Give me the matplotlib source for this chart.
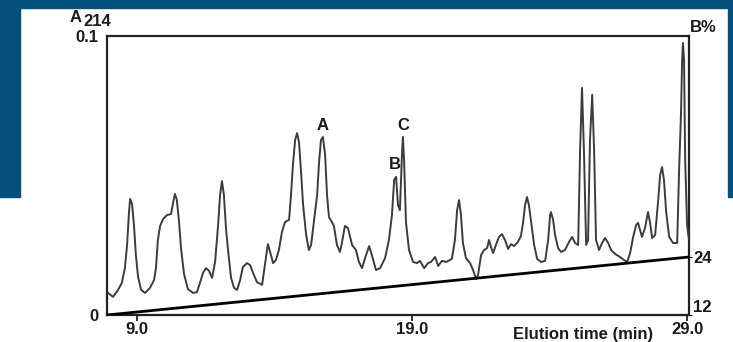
import matplotlib
matplotlib.use("Agg")
import matplotlib.pyplot as plt
from matplotlib.patches import Rectangle

# elution time (min) and absorbance at 214 nm
time = [7.95, 8.13, 8.31, 8.45, 8.56, 8.64, 8.71, 8.75, 8.82, 8.89, 8.96, 9.04, 9.15, 9.29,
        9.47, 9.62, 9.69, 9.76, 9.84, 9.95, 10.09, 10.24, 10.31, 10.38, 10.45, 10.53, 10.60,
        10.71, 10.85, 11.04, 11.18, 11.29, 11.40, 11.51, 11.62, 11.73, 11.84, 11.95, 12.02,
        12.09, 12.16, 12.24, 12.31, 12.42, 12.53, 12.64, 12.75, 12.85, 13.00, 13.11, 13.22,
        13.36, 13.55, 13.65, 13.76, 13.84, 13.95, 14.05, 14.16, 14.27, 14.38, 14.53, 14.60,
        14.67, 14.75, 14.82, 14.89, 14.96, 15.04, 15.15, 15.25, 15.33, 15.44, 15.55, 15.62,
        15.69, 15.76, 15.84, 15.91, 15.98, 16.09, 16.16, 16.27, 16.38, 16.45, 16.56, 16.67,
        16.82, 16.96, 17.07, 17.18, 17.33, 17.44, 17.55, 17.69, 17.84, 18.02, 18.16, 18.27,
        18.35, 18.42, 18.49, 18.56, 18.64, 18.67, 18.71, 18.78, 18.89, 19.04, 19.18, 19.29,
        19.44, 19.58, 19.69, 19.84, 19.95, 20.09, 20.24, 20.45, 20.56, 20.64, 20.71, 20.78,
        20.85, 20.96, 21.11, 21.22, 21.33, 21.40, 21.51, 21.62, 21.73, 21.80, 21.87, 21.95,
        22.05, 22.16, 22.27, 22.38, 22.49, 22.60, 22.71, 22.85, 22.96, 23.04, 23.11, 23.18,
        23.25, 23.33, 23.44, 23.55, 23.69, 23.84, 23.95, 24.02, 24.05, 24.13, 24.20, 24.31,
        24.42, 24.56, 24.71, 24.82, 24.93, 25.04, 25.11, 25.18, 25.25, 25.33, 25.40, 25.47,
        25.55, 25.62, 25.69, 25.80, 25.91, 26.02, 26.13, 26.24, 26.38, 26.56, 26.71, 26.82,
        26.93, 27.04, 27.15, 27.22, 27.29, 27.36, 27.47, 27.58, 27.65, 27.73, 27.84, 27.95,
        28.02, 28.09, 28.16, 28.24, 28.35, 28.49, 28.64, 28.71, 28.78, 28.82, 28.85, 28.89,
        28.93, 29.00, 29.07]
a214 = [0.0079, 0.0065, 0.0090, 0.0115, 0.0168, 0.0251, 0.0369, 0.0416, 0.0398, 0.0323, 0.0215, 0.0136, 0.0090, 0.0079,
        0.0097, 0.0125, 0.0168, 0.0269, 0.0319, 0.0344, 0.0358, 0.0362, 0.0401, 0.0434, 0.0412, 0.0333, 0.0240,
        0.0147, 0.0093, 0.0079, 0.0082, 0.0115, 0.0151, 0.0168, 0.0158, 0.0133, 0.0190, 0.0323, 0.0430,
        0.0480, 0.0430, 0.0305, 0.0233, 0.0133, 0.0097, 0.0090, 0.0125, 0.0172, 0.0186, 0.0179, 0.0151,
        0.0118, 0.0108, 0.0179, 0.0254, 0.0226, 0.0186, 0.0197, 0.0233, 0.0297, 0.0333, 0.0341, 0.0430,
        0.0538, 0.0627, 0.0652, 0.0620, 0.0520, 0.0394, 0.0287, 0.0233, 0.0251, 0.0341, 0.0430, 0.0548,
        0.0627, 0.0638, 0.0573, 0.0430, 0.0351, 0.0333, 0.0319, 0.0251, 0.0226, 0.0258, 0.0319, 0.0312,
        0.0251, 0.0233, 0.0190, 0.0168, 0.0215, 0.0247, 0.0211, 0.0161, 0.0168, 0.0204, 0.0269, 0.0358,
        0.0484, 0.0495, 0.0394, 0.0376, 0.0591, 0.0638, 0.0556, 0.0333, 0.0233, 0.0190, 0.0186, 0.0194,
        0.0168, 0.0186, 0.0190, 0.0208, 0.0176, 0.0194, 0.0190, 0.0201, 0.0269, 0.0376, 0.0412, 0.0358,
        0.0258, 0.0204, 0.0186, 0.0161, 0.0129, 0.0143, 0.0215, 0.0233, 0.0240, 0.0269, 0.0244, 0.0222,
        0.0251, 0.0280, 0.0290, 0.0269, 0.0237, 0.0254, 0.0247, 0.0262, 0.0283, 0.0333, 0.0394, 0.0423,
        0.0394, 0.0333, 0.0251, 0.0201, 0.0190, 0.0194, 0.0269, 0.0358, 0.0369, 0.0341, 0.0287, 0.0240,
        0.0226, 0.0233, 0.0262, 0.0280, 0.0258, 0.0251, 0.0591, 0.0814, 0.0591, 0.0251, 0.0269, 0.0627,
        0.0789, 0.0591, 0.0269, 0.0233, 0.0258, 0.0276, 0.0258, 0.0233, 0.0219, 0.0208, 0.0197, 0.0190,
        0.0222, 0.0280, 0.0323, 0.0330, 0.0305, 0.0280, 0.0312, 0.0369, 0.0333, 0.0276, 0.0287, 0.0412,
        0.0502, 0.0530, 0.0484, 0.0369, 0.0280, 0.0258, 0.0258, 0.0520, 0.0724, 0.0914, 0.0975, 0.0914,
        0.0556, 0.0323, 0.0269]

# solvent B gradient (%)
grad_time = [7.91, 29.07]
grad_b = [12, 24]

# peak labels
peak_names = ["A", "B", "C"]
peak_time = [15.73, 18.38, 18.67]
peak_a214 = [0.0681, 0.0538, 0.0681]

xticks = [9.0, 19.0, 29.0]
xtick_labels = ["9.0", "19.0", "29.0"]

W, H = 733, 342
fig = plt.figure(figsize=(W / 100, H / 100), dpi=100)
fig.patch.set_facecolor("white")

blue = "#044f7c"
fig.add_artist(Rectangle((0, 1 - 8 / H), 1, 8 / H, transform=fig.transFigure, color=blue, zorder=0))
fig.add_artist(Rectangle((0, 1 - 197 / H), 20 / W, 197 / H, transform=fig.transFigure, color=blue, zorder=0))
fig.add_artist(Rectangle((728 / W, 1 - 197 / H), 5 / W, 197 / H, transform=fig.transFigure, color=blue, zorder=0))

ax = fig.add_axes([107 / W, 1 - 315 / H, (689 - 107) / W, (315 - 36) / H])
ax.set_facecolor("none")
font = dict(family="Liberation Sans", weight="bold", size=12, color="#1a1a1a")

ax.plot(time, a214, color="#3c3c3c", lw=1.4, zorder=3)
for n, t, a in zip(peak_names, peak_time, peak_a214):
    ax.text(t, a, n, ha="center", va="center", **font)

ax.set_xlim(7.91, 29.07)
ax.set_ylim(0, 0.1)
ax.set_xticks(xticks, xtick_labels)
ax.set_yticks([0, 0.1], ["0", "0.1"])
ax.tick_params(axis="x", direction="out", length=4, width=1.3, pad=1, color="#222222")
ax.tick_params(axis="y", length=0, pad=6)
for lab in ax.get_xticklabels() + ax.get_yticklabels():
    lab.set_fontproperties("Liberation Sans")
    lab.set_fontweight("bold")
    lab.set_fontsize(12)
    lab.set_color("#1a1a1a")
for s in ax.spines.values():
    s.set_linewidth(1.6)
    s.set_color("#222222")

ax2 = ax.twinx()
ax2.plot(grad_time, grad_b, color="black", lw=2.0, zorder=2)
ax2.set_ylim(12, 12 + 12 * 279 / 58)
ax2.set_yticks([12, 24], ["12", "24"])
ax2.tick_params(axis="y", length=2, pad=1)
for lab in ax2.get_yticklabels():
    lab.set_fontproperties("Liberation Sans")
    lab.set_fontweight("bold")
    lab.set_fontsize(12)
    lab.set_color("#1a1a1a")
ax2.get_yticklabels()[0].set_va("bottom")
for s in ax2.spines.values():
    s.set_visible(False)

fig.text(70 / W, 1 - 18 / H, "A", ha="left", va="center", **font)
fig.text(83 / W, 1 - 22 / H, "214", ha="left", va="center", **font)
fig.text(703 / W, 1 - 27 / H, "B%", ha="center", va="center", **font)
fig.text(583 / W, 1 - 334 / H, "Elution time (min)", ha="center", va="center", **font)

fig.savefig("out.png", dpi=100)
